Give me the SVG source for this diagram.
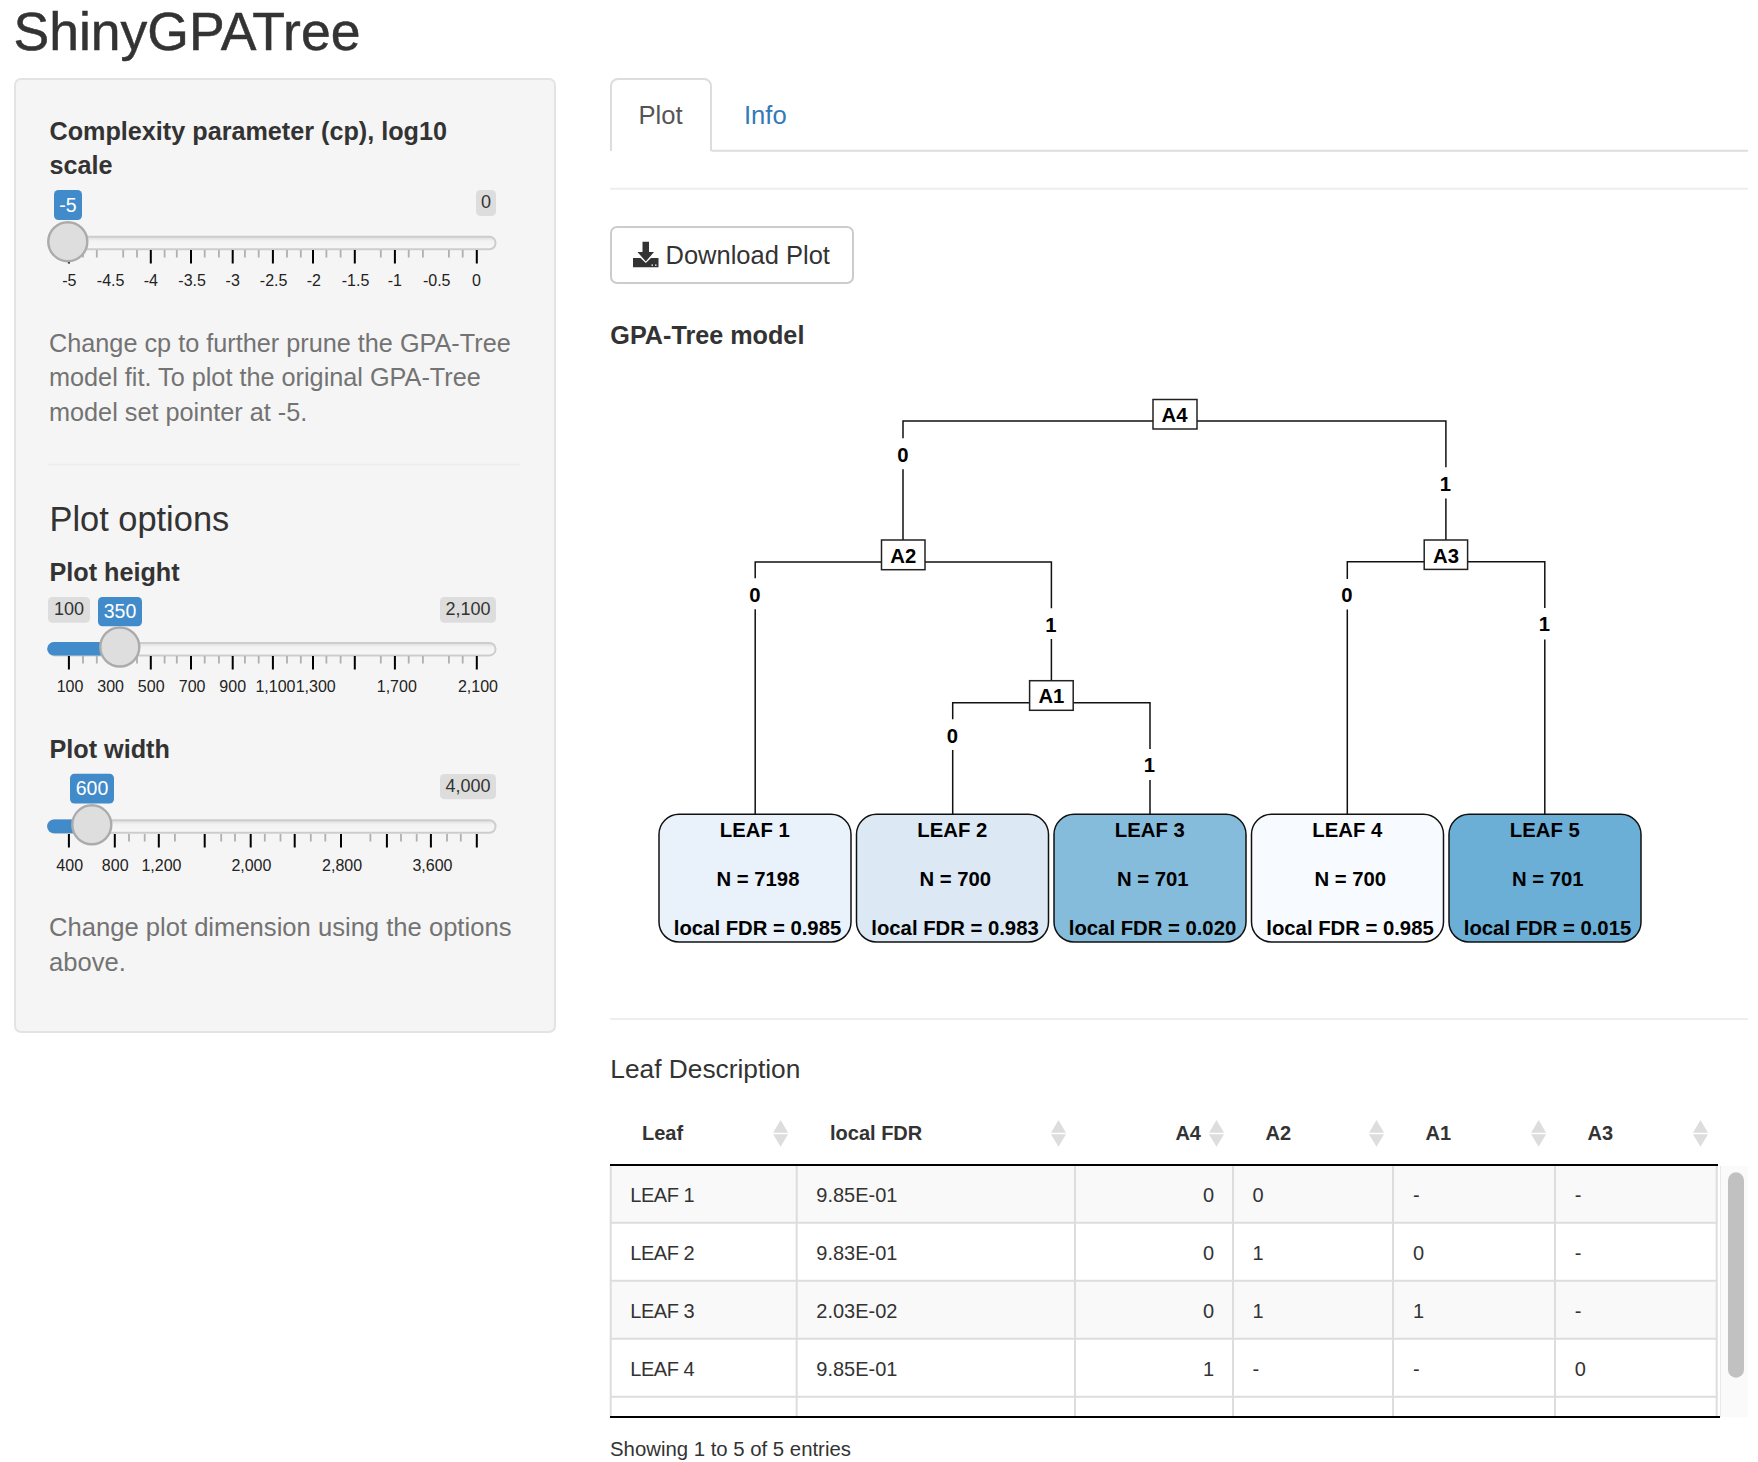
<svg xmlns="http://www.w3.org/2000/svg" xmlns:xlink="http://www.w3.org/1999/xlink" width="1758" height="1462" viewBox="0 0 1758 1462">
<style>
text{font-family:"Liberation Sans",Arial,sans-serif;fill:#333}
.help{font-size:25.25px;fill:#737373}
.lab{font-size:25.2px;font-weight:700}
.tk{font-size:16px;fill:#222;text-anchor:middle}
.badge{font-size:18px;text-anchor:middle}
.on{font-size:19.5px;fill:#fff}
.bg{fill:#ddd}
.bb{fill:#428bca}
.track{fill:url(#tg);stroke:#cdcdcd;stroke-width:2}
.handle{fill:#dedede;stroke:#ababab;stroke-width:2.4}
.maj{stroke:#000;stroke-width:2;fill:none}
.min{stroke:#b0b0b0;stroke-width:1.8;fill:none}
.conn{stroke:#111;stroke-width:1.5;fill:none}
.nbox{fill:#fff;stroke:#222;stroke-width:1.5}
.leaf{stroke:#111;stroke-width:1.5}
.t{font-size:20.3px;font-weight:700;fill:#000;text-anchor:middle}
.th{font-size:20px;font-weight:700}
.td{font-size:20px}
.lf{letter-spacing:-.45px}
.grid{stroke:#ddd;stroke-width:2;fill:none}
.sort{fill:#ddd}
</style>
<defs>
<linearGradient id="tg" x1="0" y1="0" x2="0" y2="1"><stop offset="0" stop-color="#dcdcdc"/><stop offset=".35" stop-color="#f3f3f3"/><stop offset="1" stop-color="#f7f7f7"/></linearGradient>
<g id="ticksA">
<path class="min" d="M83 0v7.5M96.8 0v7.5M123.2 0v7.500M137 0v7.500M164.6 0v7.500M176.8 0v7.500M204.7 0v7.500M218.9 0v7.500M244.9 0v7.500M258.7 0v7.500M287 0v7.500M300.8 0v7.500M326.4 0v7.500M340.6 0v7.500M380.8 0v7.500M408.7 0v7.500M422.9 0v7.500M448.9 0v7.500M462.7 0v7.500"/>
<path class="maj" d="M68.9 0v13.5M150.8 0v13.5M191 0v13.5M232.7 0v13.5M272.9 0v13.5M313 0v13.5M354.8 0v13.5M394.9 0v13.5M476.8 0v13.5"/>
</g>
<path id="up" d="M0 0l7.5 12.7h-15z"/>
<path id="dn" d="M-7.5 0h15l-7.5 12.4z"/>
</defs>
<rect width="1758" height="1462" fill="#fff"/>
<text x="13.5" y="49.5" font-size="53.5" stroke="#333" stroke-width=".5">ShinyGPATree</text>

<g id="sidebar">
<rect x="15" y="79" width="540" height="953" rx="6" fill="#f5f5f5" stroke="#e3e3e3" stroke-width="2"/>
<text class="lab" x="49.5" y="140">Complexity parameter (cp), log10</text>
<text class="lab" x="49.5" y="174">scale</text>
<rect class="track" x="48.5" y="236.8" width="447" height="12.5" rx="6"/>
<use href="#ticksA" xlink:href="#ticksA" y="250"/>
<rect class="bb" x="54" y="190" width="28" height="30" rx="4.5"/>
<text class="badge on" x="68" y="211.5">-5</text>
<rect class="bg" x="476" y="190" width="20" height="26" rx="4.5"/>
<text class="badge" x="486" y="208">0</text>
<circle class="handle" cx="67.8" cy="241.7" r="19.5"/>
<g class="tklabels">
<text class="tk" x="69.3" y="286">-5</text><text class="tk" x="110.6" y="286">-4.5</text><text class="tk" x="150.8" y="286">-4</text><text class="tk" x="192.1" y="286">-3.5</text><text class="tk" x="232.7" y="286">-3</text><text class="tk" x="273.6" y="286">-2.5</text><text class="tk" x="313.8" y="286">-2</text><text class="tk" x="355.5" y="286">-1.5</text><text class="tk" x="394.9" y="286">-1</text><text class="tk" x="436.7" y="286">-0.5</text><text class="tk" x="476.5" y="286">0</text>
</g>
<text class="help" x="49" y="351.7">Change cp to further prune the GPA-Tree</text>
<text class="help" x="49" y="385.7">model fit. To plot the original GPA-Tree</text>
<text class="help" x="49" y="420.5">model set pointer at -5.</text>
<path d="M48 464.7H520" stroke="#eee" stroke-width="1.8"/>
<text x="49.5" y="531" font-size="34.4">Plot options</text>

<text class="lab" x="49.5" y="580.8">Plot height</text>
<rect class="track" x="48.5" y="642.9" width="447" height="12.500" rx="6"/>
<path d="M54 642H120v13.6H54a6.8 6.8 0 0 1 0-13.600z" fill="#428bca"/>
<use href="#ticksA" xlink:href="#ticksA" y="656"/>
<rect class="bg" x="48" y="597" width="42" height="25.8" rx="4.5"/>
<text class="badge" x="69" y="614.5">100</text>
<rect class="bb" x="98" y="597" width="44" height="29.3" rx="4.5"/>
<text class="badge on" x="120" y="618">350</text>
<rect class="bg" x="440" y="597" width="56" height="25.8" rx="4.5"/>
<text class="badge" x="468" y="614.5">2,100</text>
<circle class="handle" cx="119.8" cy="647" r="19.500"/>
<g class="tklabels">
<text class="tk" x="70" y="691.6">100</text><text class="tk" x="110.6" y="691.6">300</text><text class="tk" x="151.2" y="691.6">500</text><text class="tk" x="192.1" y="691.6">700</text><text class="tk" x="232.7" y="691.6">900</text><text class="tk" x="275.5" y="691.6">1,100</text><text class="tk" x="315.7" y="691.6">1,300</text><text class="tk" x="396.8" y="691.6">1,700</text><text class="tk" x="478" y="691.6">2,100</text>
</g>

<text class="lab" x="49.5" y="758">Plot width</text>
<rect class="track" x="48.5" y="820.2" width="447" height="12.5" rx="6"/>
<path d="M54 819.6H92v13.7H54a6.8 6.8 0 0 1 0-13.700z" fill="#428bca"/>
<path class="min" d="M129 834v7.500M144.7 834v7.500M174.9 834v7.500M221.2 834v7.500M235 834v7.500M264.8 834v7.500M280.5 834v7.500M310.8 834v7.500M325.3 834v7.500M370.4 834v7.500M401 834v7.500M416.7 834v7.500M447 834v7.500M460.8 834v7.500"/>
<path class="maj" d="M68.9 834v13.500M114.8 834v13.500M158.8 834v13.500M204.7 834v13.500M250.7 834v13.500M294.7 834v13.500M341 834v13.500M386.9 834v13.500M430.9 834v13.500M476.8 834v13.500"/>
<rect class="bb" x="70" y="773.7" width="44" height="29.8" rx="4.5"/>
<text class="badge on" x="92" y="795.3">600</text>
<rect class="bg" x="440" y="774" width="56" height="25.3" rx="4.5"/>
<text class="badge" x="468" y="792">4,000</text>
<circle class="handle" cx="91.8" cy="824.8" r="19.500"/>
<g class="tklabels">
<text class="tk" x="69.7" y="870.500">400</text><text class="tk" x="115.2" y="870.500">800</text><text class="tk" x="161.5" y="870.500">1,200</text><text class="tk" x="251.4" y="870.500">2,000</text><text class="tk" x="342.1" y="870.500">2,800</text><text class="tk" x="432.5" y="870.500">3,600</text>
</g>
<text class="help" x="49" y="936" style="font-size:25.6px">Change plot dimension using the options</text>
<text class="help" x="49" y="970.800" style="font-size:25.6px">above.</text>
</g>

<g id="tabs">
<path d="M711.5 150.7H1748" stroke="#ddd" stroke-width="2"/>
<path d="M611 151V86a7 7 0 0 1 7-7h86a7 7 0 0 1 7 7v65" fill="#fff" stroke="#ddd" stroke-width="2"/>
<text x="660.5" y="124" font-size="25.6" text-anchor="middle" style="fill:#555">Plot</text>
<text x="744" y="124" font-size="25.6" style="fill:#337ab7">Info</text>
<path d="M610 188.7H1748" stroke="#eee" stroke-width="2"/>
</g>
<g id="download">
<rect x="611" y="227" width="242" height="56" rx="6" fill="#fff" stroke="#ccc" stroke-width="2"/>
<path d="M642.5 241.7h6.5v10.3h5l-8.200 9.500-8.300-9.500h5z" fill="#333"/>
<path d="M633 258h7.500l5.300 5 5.200-5h7.500v9.300h-25.500z" fill="#333"/>
<path d="M651.500 264.500h1.500v1.300h-1.500zM655 264.500h1.500v1.300h-1.500z" fill="#fff"/>
<text x="665.500" y="264" font-size="25.500">Download Plot</text>
</g>
<text class="lab" x="610.300" y="344">GPA-Tree model</text>

<g id="connectors">
<path class="conn" d="M1153 421H903V438.300M903 469.300V540M1197 421H1445.900V467.300M1445.900 498.600V540"/>
<path class="conn" d="M881.500 562H755.200V578.300M755.200 609.300V814M925 562H1051.400V608.300M1051.400 639V680.700"/>
<path class="conn" d="M1029.600 702.700H952.700V719.300M952.700 750V814M1073.200 702.700H1150V749M1150 780V814"/>
<path class="conn" d="M1424.200 561.800H1347.300V579M1347.300 609.600V814M1467.600 561.800H1544.800V608M1544.800 639.500V814"/>
<g id="edge-labels">
<text class="t" x="903" y="461.500">0</text><text class="t" x="1445.500" y="491">1</text>
<text class="t" x="755" y="601.700">0</text><text class="t" x="1051" y="632">1</text>
<text class="t" x="952.500" y="743.300">0</text><text class="t" x="1149.500" y="771.700">1</text>
<text class="t" x="1347" y="601.500">0</text><text class="t" x="1544.500" y="631">1</text>
</g>
</g>

<g id="node-A4"><rect class="nbox" x="1153" y="399.500" width="44" height="29.500"/><text class="t" x="1174.500" y="422">A4</text></g>
<g id="node-A2"><rect class="nbox" x="881.500" y="540" width="43.500" height="29.700"/><text class="t" x="903.300" y="562.700">A2</text></g>
<g id="node-A3"><rect class="nbox" x="1424.200" y="540" width="43.400" height="29.400"/><text class="t" x="1446" y="563">A3</text></g>
<g id="node-A1"><rect class="nbox" x="1029.600" y="680.700" width="43.600" height="29.600"/><text class="t" x="1051.400" y="703.300">A1</text></g>

<g id="leaf-1"><rect class="leaf" x="659" y="814.300" width="192" height="127.700" rx="20" fill="#e9f1fa"/><text class="t" x="754.800" y="836.700">LEAF 1</text><text class="t" x="758" y="885.700">N = 7198</text><text class="t" x="757.500" y="935">local FDR = 0.985</text></g>
<g id="leaf-2"><rect class="leaf" x="856.500" y="814.300" width="192" height="127.700" rx="20" fill="#dce9f5"/><text class="t" x="952.300" y="836.700">LEAF 2</text><text class="t" x="955.300" y="885.700">N = 700</text><text class="t" x="955" y="935">local FDR = 0.983</text></g>
<g id="leaf-3"><rect class="leaf" x="1054" y="814.300" width="192" height="127.700" rx="20" fill="#85bbdb"/><text class="t" x="1149.800" y="836.700">LEAF 3</text><text class="t" x="1152.800" y="885.700">N = 701</text><text class="t" x="1152.500" y="935">local FDR = 0.020</text></g>
<g id="leaf-4"><rect class="leaf" x="1251.500" y="814.300" width="192" height="127.700" rx="20" fill="#f7fbff"/><text class="t" x="1347.300" y="836.700">LEAF 4</text><text class="t" x="1350.300" y="885.700">N = 700</text><text class="t" x="1350" y="935">local FDR = 0.985</text></g>
<g id="leaf-5"><rect class="leaf" x="1449" y="814.300" width="192" height="127.700" rx="20" fill="#6baed6"/><text class="t" x="1544.800" y="836.700">LEAF 5</text><text class="t" x="1547.800" y="885.700">N = 701</text><text class="t" x="1547.500" y="935">local FDR = 0.015</text></g>

<path d="M610 1019H1748" stroke="#eee" stroke-width="2"/>
<text x="610.300" y="1078" font-size="26.300">Leaf Description</text>

<g id="table">
<rect x="611" y="1166" width="1106" height="57" fill="#f9f9f9"/>
<rect x="611" y="1281" width="1106" height="58" fill="#f9f9f9"/>
<path class="grid" d="M611 1222.700H1717M611 1280.700H1717M611 1338.700H1717M611 1396.700H1717M610.700 1166V1416M796.700 1166V1416M1075 1166V1416M1233 1166V1416M1393 1166V1416M1555 1166V1416M1716.700 1166V1416"/>
<path d="M610 1165H1718" stroke="#000" stroke-width="2"/>
<path d="M610 1417H1720" stroke="#000" stroke-width="2"/>
<text class="th" x="642" y="1140">Leaf</text><text class="th" x="830" y="1140">local FDR</text><text class="th" x="1201" y="1140" text-anchor="end">A4</text><text class="th" x="1265.500" y="1140">A2</text><text class="th" x="1425.500" y="1140">A1</text><text class="th" x="1587.500" y="1140">A3</text>
<g class="sort">
<use href="#up" xlink:href="#up" x="780.600" y="1120"/><use href="#dn" xlink:href="#dn" x="780.600" y="1134.300"/>
<use href="#up" xlink:href="#up" x="1058.500" y="1120"/><use href="#dn" xlink:href="#dn" x="1058.500" y="1134.300"/>
<use href="#up" xlink:href="#up" x="1216.500" y="1120"/><use href="#dn" xlink:href="#dn" x="1216.500" y="1134.300"/>
<use href="#up" xlink:href="#up" x="1376.500" y="1120"/><use href="#dn" xlink:href="#dn" x="1376.500" y="1134.300"/>
<use href="#up" xlink:href="#up" x="1538.600" y="1120"/><use href="#dn" xlink:href="#dn" x="1538.600" y="1134.300"/>
<use href="#up" xlink:href="#up" x="1700.500" y="1120"/><use href="#dn" xlink:href="#dn" x="1700.500" y="1134.300"/>
</g>
<g class="rows">
<text class="td lf" x="630.300" y="1202">LEAF 1</text><text class="td" x="816.300" y="1202">9.85E-01</text><text class="td" x="1214" y="1202" text-anchor="end">0</text><text class="td" x="1252.600" y="1202">0</text><text class="td" x="1413" y="1202">-</text><text class="td" x="1574.800" y="1202">-</text>
<text class="td lf" x="630.300" y="1260">LEAF 2</text><text class="td" x="816.300" y="1260">9.83E-01</text><text class="td" x="1214" y="1260" text-anchor="end">0</text><text class="td" x="1252.600" y="1260">1</text><text class="td" x="1413" y="1260">0</text><text class="td" x="1574.800" y="1260">-</text>
<text class="td lf" x="630.300" y="1318">LEAF 3</text><text class="td" x="816.300" y="1318">2.03E-02</text><text class="td" x="1214" y="1318" text-anchor="end">0</text><text class="td" x="1252.600" y="1318">1</text><text class="td" x="1413" y="1318">1</text><text class="td" x="1574.800" y="1318">-</text>
<text class="td lf" x="630.300" y="1376">LEAF 4</text><text class="td" x="816.300" y="1376">9.85E-01</text><text class="td" x="1214" y="1376" text-anchor="end">1</text><text class="td" x="1252.600" y="1376">-</text><text class="td" x="1413" y="1376">-</text><text class="td" x="1574.800" y="1376">0</text>
</g>
<rect x="1720.500" y="1166" width="27.500" height="251" fill="#fafafa"/>
<path d="M1720.500 1166V1417" stroke="#e8e8e8" stroke-width="1"/>
<rect x="1728" y="1172.300" width="16" height="205.400" rx="8" fill="#c1c1c1"/>
<text x="610" y="1455.500" font-size="20.350">Showing 1 to 5 of 5 entries</text>
</g>
</svg>
